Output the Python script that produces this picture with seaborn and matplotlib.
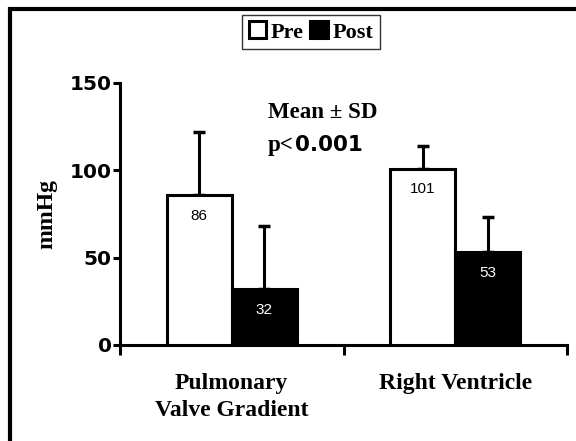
import numpy as np
import pandas as pd
import matplotlib
matplotlib.use("Agg")
import matplotlib.pyplot as plt
from matplotlib.patches import Rectangle
import seaborn as sns

categories = ["Pulmonary\nValve Gradient", "Right Ventricle"]
groups = ["Pre", "Post"]
pre_mean = [86, 101]
post_mean = [32, 53]
pre_sd = [36, 13]
post_sd = [36, 20]
y_ticks = [0, 50, 100, 150]

df = pd.DataFrame({
    "category": categories * 2,
    "group": ["Pre"] * 2 + ["Post"] * 2,
    "value": pre_mean + post_mean,
    "sd": pre_sd + post_sd,
})

sns.set_theme(style="white")
plt.rcParams["font.family"] = ["Liberation Serif", "DejaVu Serif"]
for k in ["text.color", "axes.labelcolor", "xtick.color", "ytick.color", "axes.edgecolor"]:
    plt.rcParams[k] = "black"

W, H = 576, 441
fig = plt.figure(figsize=(5.76, 4.41), dpi=100)
ax = fig.add_axes([120 / W, 1 - 345 / H, (567 - 120) / W, (345 - 83) / H])

sns.barplot(data=df, x="category", y="value", hue="group", hue_order=groups,
            palette={"Pre": "white", "Post": "black"}, edgecolor="black",
            linewidth=2.2, width=0.58, errorbar=None, ax=ax, zorder=3)

# upward-only SD bars and value labels
for cont, grp in zip(ax.containers, groups):
    sub = df[df["group"] == grp]
    for bar, val, sd in zip(cont, sub["value"], sub["sd"]):
        xc = bar.get_x() + bar.get_width() / 2
        ax.errorbar(xc, val, yerr=[[0], [sd]], fmt="none", ecolor="black",
                    elinewidth=2.2, capsize=4, capthick=2.5, zorder=2)
    color = "black" if grp == "Pre" else "white"
    ax.bar_label(cont, labels=[str(v) for v in sub["value"]], padding=-20,
                 color=color, fontsize=11, family="Liberation Sans")

ax.set_ylim(0, 150)
ax.set_xlim(-0.5, 1.5)
ax.set_yticks(y_ticks)
ax.set_yticklabels([str(t) for t in y_ticks], fontsize=14.5, fontweight="bold",
                   family="DejaVu Sans")
ax.set_xticks([-0.5, 0.5, 1.5])
ax.set_xticklabels([])
ax.tick_params(axis="y", direction="out", length=5, width=2.2, left=True, pad=1)
ax.tick_params(axis="x", direction="out", length=7, width=2.2, bottom=True)
for s in ["top", "right"]:
    ax.spines[s].set_visible(False)
for s in ["left", "bottom"]:
    ax.spines[s].set_linewidth(2.2)

ax.set_xlabel("")
ax.set_ylabel("mmHg", fontsize=17, fontweight="bold", labelpad=9)

for i, cat in enumerate(categories):
    ax.text(i, -0.105, cat, transform=ax.get_xaxis_transform(), ha="center",
            va="top", fontsize=17, fontweight="bold", linespacing=1.42)

ax.text(268 / W, 1 - 113 / H, "Mean \u00b1 SD", transform=fig.transFigure,
        fontsize=16.5, fontweight="bold", va="center", ha="left")
ax.text(268 / W, 1 - 145 / H, "p<", transform=fig.transFigure,
        fontsize=16.5, fontweight="bold", va="center", ha="left")
ax.text(295 / W, 1 - 145 / H, "0.001", transform=fig.transFigure,
        fontsize=15.5, fontweight="bold", va="center", ha="left",
        family="DejaVu Sans")

handles, labels = ax.get_legend_handles_labels()
ax.legend_.remove()
leg = fig.legend(handles, labels, loc="center", bbox_to_anchor=(311 / W, 1 - 32 / H),
                 ncol=2, frameon=True, fancybox=False, prop={"weight": "bold", "size": 16},
                 handlelength=0.8, handleheight=0.8, handletextpad=0.2,
                 columnspacing=0.3, borderpad=0.3, borderaxespad=0)
leg.get_frame().set_edgecolor("black")
leg.get_frame().set_linewidth(1.0)

# outer frame of the original slide (cropped on the right and bottom)
fig.add_artist(Rectangle((10 / W, -0.2), 1.2, 1 - 9 / H + 0.2, transform=fig.transFigure,
                         fill=False, edgecolor="black", linewidth=3, clip_on=False))

fig.savefig("out.png", dpi=100)
